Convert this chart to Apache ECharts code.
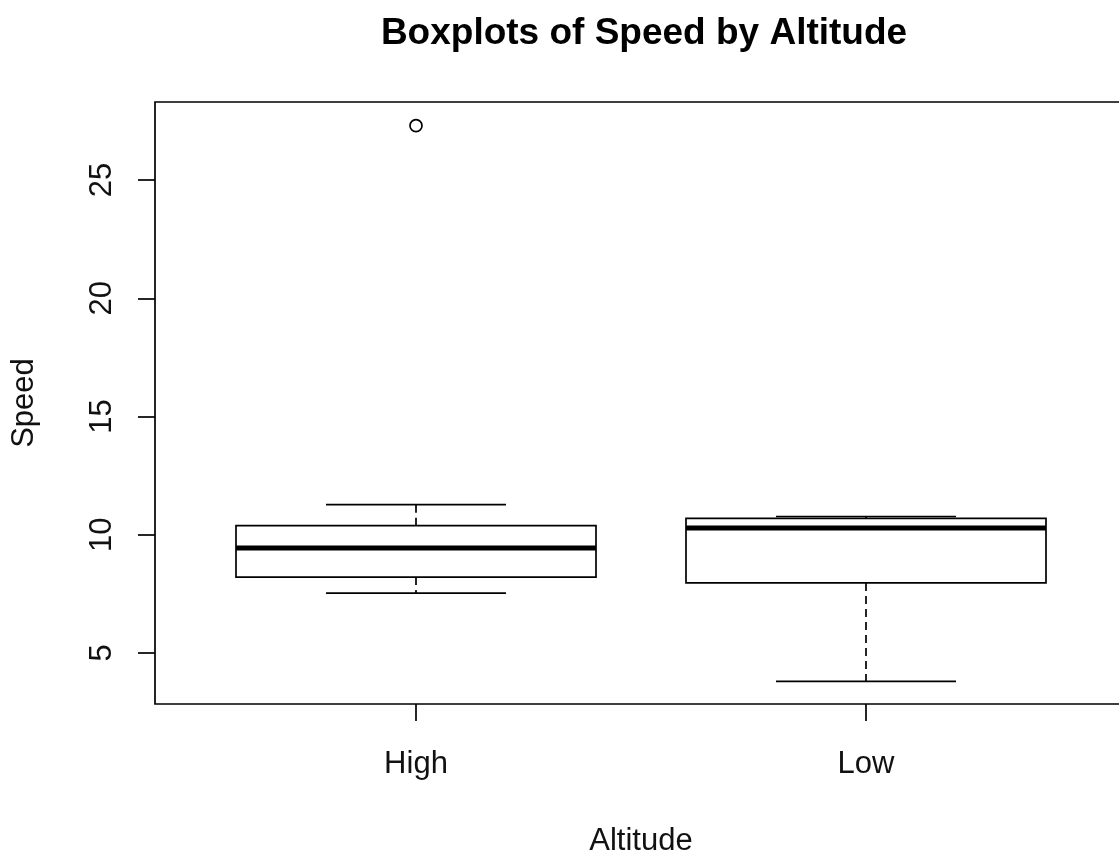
<!DOCTYPE html>
<html>
<head>
<meta charset="utf-8">
<script src="https://cdn.jsdelivr.net/npm/echarts@6/dist/echarts.min.js"></script>
<style>html,body{margin:0;padding:0;background:#fff;}#c{width:1119px;height:854px;}</style>
</head>
<body>
<div id="c"></div>
<script>
const categories = ['High', 'Low'];
const whiskerLow = [7.53, 3.80];
const quartile1 = [8.21, 7.96];
const medians = [9.44, 10.28];
const quartile3 = [10.38, 10.69];
const whiskerHigh = [11.27, 10.77];
const outlierCategory = ['High'];
const outlierValues = [27.30];
const yTicks = [5, 10, 15, 20, 25];

const FONT = '"Liberation Sans", Arial, sans-serif';
const boxData = categories.map((c, i) => [i + 1, whiskerLow[i], quartile1[i], medians[i], quartile3[i], whiskerHigh[i]]);
const outlierData = outlierCategory.map((c, i) => [categories.indexOf(c) + 1, outlierValues[i]]);

function renderBox(params, api) {
  const x = api.value(0);
  const pMin = api.coord([x, api.value(1)]);
  const pQ1 = api.coord([x, api.value(2)]);
  const pMed = api.coord([x, api.value(3)]);
  const pQ3 = api.coord([x, api.value(4)]);
  const pMax = api.coord([x, api.value(5)]);
  const halfW = api.size([0.8, 0])[0] / 2;
  const capHalf = api.size([0.4, 0])[0] / 2;
  const cx = pMed[0];
  const stroke = { stroke: '#000', lineWidth: 1.7, fill: null };
  const dashed = { stroke: '#000', lineWidth: 1.7, lineDash: [8, 5] };
  return {
    type: 'group',
    children: [
      { type: 'line', shape: { x1: cx, y1: pQ3[1], x2: cx, y2: pMax[1] }, style: dashed },
      { type: 'line', shape: { x1: cx, y1: pQ1[1], x2: cx, y2: pMin[1] }, style: dashed },
      { type: 'line', shape: { x1: cx - capHalf, y1: pMax[1], x2: cx + capHalf, y2: pMax[1] }, style: stroke },
      { type: 'line', shape: { x1: cx - capHalf, y1: pMin[1], x2: cx + capHalf, y2: pMin[1] }, style: stroke },
      { type: 'rect', shape: { x: cx - halfW, y: pQ3[1], width: halfW * 2, height: pQ1[1] - pQ3[1] }, style: { fill: '#fff', stroke: '#000', lineWidth: 1.7 } },
      { type: 'line', shape: { x1: cx - halfW, y1: pMed[1], x2: cx + halfW, y2: pMed[1] }, style: { stroke: '#000', lineWidth: 5 } }
    ]
  };
}

const chart = echarts.init(document.getElementById('c'));
chart.setOption({
  backgroundColor: '#fff',
  animation: false,
  title: {
    text: 'Boxplots of Speed by Altitude',
    left: 639, top: 10, textAlign: 'center',
    textStyle: { fontFamily: FONT, fontWeight: 'bold', fontSize: 37, color: '#000' }
  },
  grid: {
    left: 155, top: 102, right: -8, bottom: 150,
    outerBoundsMode: 'none', containLabel: false,
    show: true, borderColor: '#000', borderWidth: 1.7, backgroundColor: 'transparent'
  },
  xAxis: {
    type: 'value', min: 0.42, max: 2.58,
    name: 'Altitude', nameLocation: 'middle', nameGap: 122,
    nameTextStyle: { fontFamily: FONT, fontSize: 31, color: '#111' },
    axisLine: { show: false },
    splitLine: { show: false },
    axisTick: { show: true, length: 17, customValues: [1, 2], lineStyle: { color: '#000', width: 1.7 } },
    axisLabel: { customValues: [1, 2], margin: 45, fontFamily: FONT, fontSize: 31, color: '#111',
      formatter: v => categories[Math.round(v) - 1] || '' }
  },
  yAxis: {
    type: 'value', min: 2.84, max: 28.3,
    name: 'Speed', nameLocation: 'middle', nameGap: 115, nameRotate: 90,
    nameTextStyle: { fontFamily: FONT, fontSize: 31, color: '#111' },
    axisLine: { show: false },
    splitLine: { show: false },
    axisTick: { show: true, length: 17, customValues: yTicks, lineStyle: { color: '#000', width: 1.7 } },
    axisLabel: { customValues: yTicks, rotate: 90, margin: 37, fontFamily: FONT, fontSize: 31, color: '#111' }
  },
  series: [
    { type: 'custom', renderItem: renderBox, data: boxData, encode: { x: 0, y: [1, 2, 3, 4, 5] }, z: 3 },
    { type: 'scatter', data: outlierData, symbol: 'circle', symbolSize: 12,
      itemStyle: { color: '#fff', borderColor: '#000', borderWidth: 1.7, opacity: 1 }, z: 4 }
  ]
});
</script>
</body>
</html>
